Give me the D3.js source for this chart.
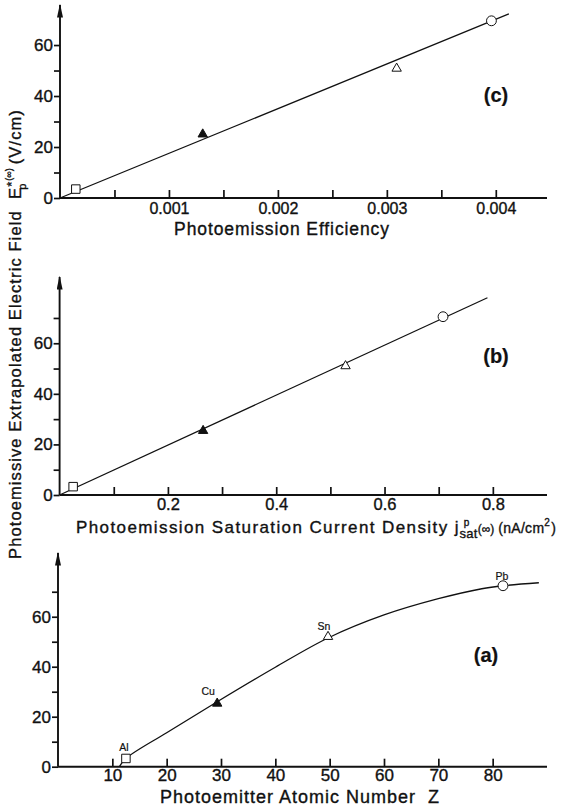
<!DOCTYPE html>
<html>
<head>
<meta charset="utf-8">
<script src="https://cdn.jsdelivr.net/npm/d3@7"></script>
<style>
  body { margin: 0; background: #fff; }
  svg text { font-family: "Liberation Sans", Arial, sans-serif; fill: #111; stroke: #111; stroke-width: 0.35px; }
</style>
</head>
<body>
<div id="chart"></div>
<script>
// marker order: Al (open square), Cu (filled triangle), Sn (open triangle), Pb (open circle)
const elements = ["Al", "Cu", "Sn", "Pb"];
const markerTypes = ["square", "triFilled", "triOpen", "circle"];

// panel (c): photoemission efficiency
const effX = [0.000145, 0.00131, 0.00309, 0.00396];
const fieldC = [3.5, 25, 50.8, 69.5];
const fitCX = [0, 0.00412];
const fitCY = [0, 72.2];
const effTicks = [0.0005, 0.001, 0.0015, 0.002, 0.0025, 0.003, 0.0035, 0.004];
const effLabels = [0.001, 0.002, 0.003, 0.004];

// panel (b): saturation current density
const jsatX = [0.025, 0.265, 0.528, 0.708];
const fieldB = [3.3, 25.4, 51, 70.5];
const fitBX = [0, 0.79];
const fitBY = [0, 78];
const jsatTicks = [0.1, 0.2, 0.3, 0.4, 0.5, 0.6, 0.7, 0.8];
const jsatLabels = [0.2, 0.4, 0.6, 0.8];

// panel (a): atomic number
const zX = [12.5, 29.3, 49.7, 81.9];
const fieldA = [3.3, 25.3, 52, 72.4];
const curveAX = [11.3, 12.5, 20, 29.3, 40, 49.7, 60, 70, 78, 81.9, 88.5];
const curveAY = [0, 3.3, 13.6, 26, 39.8, 51.5, 60.7, 67.2, 71.2, 72.4, 73.6];
const zTicks = [10, 20, 30, 40, 50, 60, 70, 80];

const svg = d3.select("#chart").append("svg")
    .attr("width", 564)
    .attr("height", 810);

svg.append("defs").append("marker")
    .attr("id", "arrow")
    .attr("viewBox", "0 0 10 10")
    .attr("refX", 9).attr("refY", 5)
    .attr("markerWidth", 14).attr("markerHeight", 6)
    .attr("markerUnits", "userSpaceOnUse")
    .attr("orient", "auto")
    .attr("preserveAspectRatio", "none")
    .append("path")
    .attr("d", "M0,0 L10,5 L0,10 Z")
    .attr("fill", "#111");

function symbolFor(type) {
    if (type === "square") return d3.symbol(d3.symbolSquare, 72)();
    if (type === "circle") return d3.symbol(d3.symbolCircle, 76)();
    return d3.symbol(d3.symbolTriangle, 38)();
}

function drawPanel(p) {
    const x = d3.scaleLinear().domain(p.xDomain).range(p.xRange);
    const y = d3.scaleLinear().domain(p.yDomain).range(p.yRange);
    const g = svg.append("g");

    // x axis: ticks point up into the plot
    const xAxis = g.append("g")
        .attr("transform", `translate(0,${p.yRange[0]})`)
        .call(d3.axisBottom(x)
            .tickValues(p.xTicks)
            .tickSizeInner(-8)
            .tickSizeOuter(0)
            .tickPadding(p.xPad)
            .tickFormat(d => p.xLabels.includes(d) ? p.xFormat(d) : ""));
    xAxis.select(".domain").remove();
    xAxis.selectAll(".tick line").attr("stroke", "#111").attr("stroke-width", 1.7);
    xAxis.selectAll("text").attr("font-size", p.xFont).attr("fill", "#111");

    // y axis: ticks point left
    const yAxis = g.append("g")
        .attr("transform", `translate(${p.xRange[0]},0)`)
        .call(d3.axisLeft(y)
            .tickValues(p.yTicks)
            .tickSizeInner(6)
            .tickSizeOuter(0)
            .tickPadding(1)
            .tickFormat(d => d % 20 === 0 ? d : ""));
    yAxis.select(".domain").remove();
    yAxis.selectAll(".tick line").attr("stroke", "#111").attr("stroke-width", 1.7);
    yAxis.selectAll("text").attr("font-size", 17).attr("fill", "#111");

    // axis lines
    g.append("line")
        .attr("x1", p.xRange[0]).attr("x2", p.xRange[1])
        .attr("y1", p.yRange[0]).attr("y2", p.yRange[0])
        .attr("stroke", "#111").attr("stroke-width", 1.9);
    g.append("line")
        .attr("x1", p.xRange[0]).attr("x2", p.xRange[0])
        .attr("y1", p.yRange[0]).attr("y2", p.yRange[1])
        .attr("stroke", "#111").attr("stroke-width", 1.9)
        .attr("marker-end", "url(#arrow)");

    // fit line / curve
    const pts = d3.zip(p.lineX, p.lineY);
    g.append("path")
        .datum(pts)
        .attr("fill", "none")
        .attr("stroke", "#111")
        .attr("stroke-width", 1.3)
        .attr("d", d3.line().x(d => x(d[0])).y(d => y(d[1])).curve(p.curve || d3.curveLinear));

    // data points
    const data = d3.zip(p.px, p.py, markerTypes, elements);
    g.selectAll("path.pt")
        .data(data)
        .join("path")
        .attr("class", "pt")
        .attr("transform", d => `translate(${x(d[0])},${y(d[1])})`)
        .attr("d", d => symbolFor(d[2]))
        .attr("fill", d => d[2] === "triFilled" ? "#111" : "#fff")
        .attr("stroke", "#111")
        .attr("stroke-width", 1);

    if (p.labelDx) {
        g.selectAll("text.el")
            .data(data)
            .join("text")
            .attr("class", "el")
            .attr("x", (d, i) => x(d[0]) + p.labelDx[i])
            .attr("y", (d, i) => y(d[1]) + p.labelDy[i])
            .attr("text-anchor", "middle")
            .attr("font-size", 10.5)
            .style("stroke-width", "0.2px")
            .text(d => d[3]);
    }

    g.append("text")
        .attr("x", p.tag[0]).attr("y", p.tag[1])
        .attr("text-anchor", "middle")
        .attr("font-size", 20)
        .attr("font-weight", "bold")
        .style("stroke-width", "0.2px")
        .text(p.tag[2]);
    return g;
}

drawPanel({
    xDomain: [0, 0.00447], xRange: [60, 547],
    yDomain: [0, 75.7], yRange: [198, 5],
    xTicks: effTicks, xLabels: effLabels, xFormat: d3.format(".3f"), xFont: 16, xPad: 5,
    yTicks: [0, 10, 20, 30, 40, 50, 60],
    lineX: fitCX, lineY: fitCY,
    px: effX, py: fieldC,
    tag: [496, 102, "(c)"]
});
svg.append("text")
    .attr("x", 282).attr("y", 235)
    .attr("text-anchor", "middle")
    .attr("font-size", 17.5)
    .attr("letter-spacing", 0.9)
    .text("Photoemission Efficiency");

drawPanel({
    xDomain: [0, 0.9], xRange: [59.6, 547],
    yDomain: [0, 86.2], yRange: [495, 277],
    xTicks: jsatTicks, xLabels: jsatLabels, xFormat: d3.format(".1f"), xFont: 16.5, xPad: 3.5,
    yTicks: [0, 10, 20, 30, 40, 50, 60, 70],
    lineX: fitBX, lineY: fitBY,
    px: jsatX, py: fieldB,
    tag: [496, 363, "(b)"]
});
// j with stacked p / sat, then (∞) and units
const tB = svg.append("text")
    .attr("x", 76).attr("y", 533)
    .attr("font-size", 17)
    .attr("letter-spacing", 1.4);
tB.append("tspan").text("Photoemission Saturation Current Density j");
tB.append("tspan").attr("font-size", 10).attr("dy", -7).attr("dx", 4).attr("letter-spacing", 0).text("p");
tB.append("tspan").attr("font-size", 13).attr("dy", 12).attr("dx", -10).attr("letter-spacing", 0.3).text("sat");
tB.append("tspan").attr("font-size", 12).attr("dy", -5).attr("letter-spacing", 0).text("(∞)");
tB.append("tspan").attr("font-size", 14).attr("dy", 0).attr("dx", 4).attr("letter-spacing", 0.3).text("(nA/cm");
tB.append("tspan").attr("font-size", 10).attr("dy", -7).text("2");
tB.append("tspan").attr("font-size", 14).attr("dy", 7).text(")");

drawPanel({
    xDomain: [0, 90], xRange: [58, 547],
    yDomain: [0, 85.5], yRange: [766.7, 553],
    xTicks: zTicks, xLabels: zTicks, xFormat: d3.format("d"), xFont: 17, xPad: 2.5,
    yTicks: [0, 10, 20, 30, 40, 50, 60, 70],
    lineX: curveAX, lineY: curveAY, curve: d3.curveCatmullRom.alpha(0.5),
    px: zX, py: fieldA,
    labelDx: [-2, -9, -4, -1],
    labelDy: [-7, -8, -7, -6],
    tag: [486, 662, "(a)"]
});
svg.append("text")
    .attr("x", 300).attr("y", 803)
    .attr("text-anchor", "middle")
    .attr("font-size", 18)
    .attr("letter-spacing", 1)
    .attr("xml:space", "preserve")
    .text("Photoemitter Atomic Number  Z");

// shared y-axis title
const yT = svg.append("text")
    .attr("transform", "translate(21,334) rotate(-90)")
    .attr("text-anchor", "middle")
    .attr("font-size", 16.5)
    .attr("letter-spacing", 1.1)
    .attr("xml:space", "preserve");
yT.append("tspan").text("Photoemissive Extrapolated Electric Field  E");
yT.append("tspan").attr("font-size", 13).attr("dy", -5).attr("letter-spacing", 0).text("*");
yT.append("tspan").attr("font-size", 11).attr("dy", 10).attr("dx", -8).attr("letter-spacing", 0).text("p");
yT.append("tspan").attr("font-size", 9).attr("dy", -14).attr("dx", 3).attr("letter-spacing", 0).text("(∞)");
yT.append("tspan").attr("font-size", 16.5).attr("dy", 9).attr("dx", 4).text("(V/cm)");
</script>
</body>
</html>
